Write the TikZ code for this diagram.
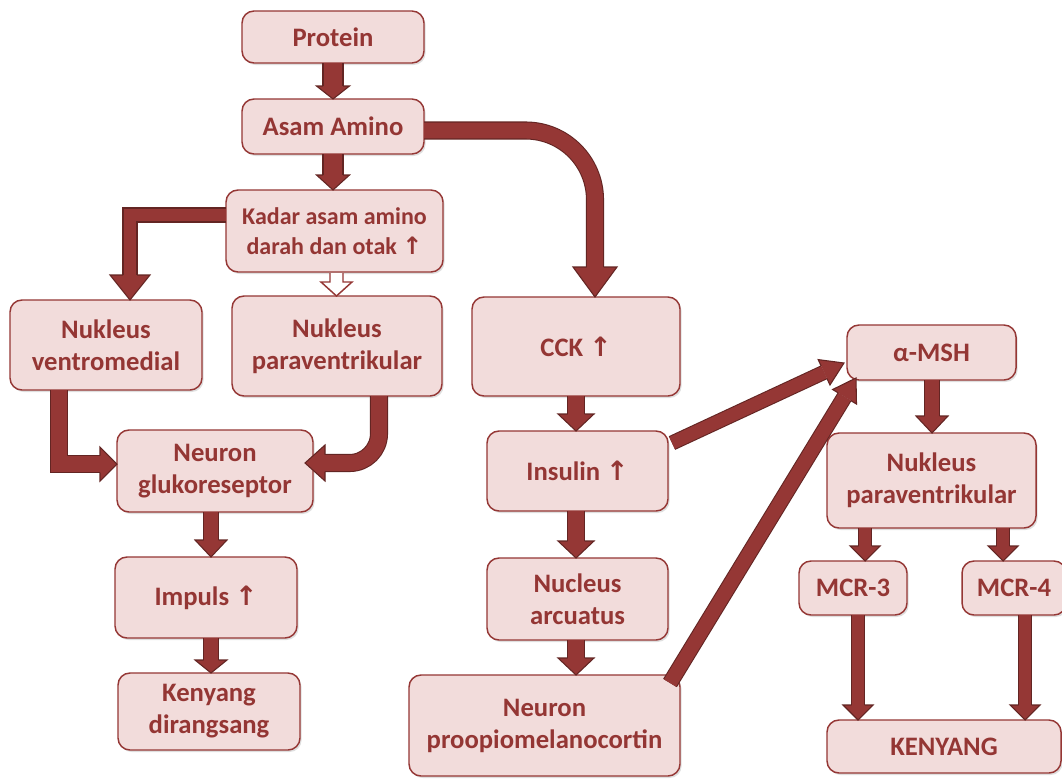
\documentclass[tikz,border=0pt]{standalone}
\usepackage{fontspec}
\setmainfont{Carlito}
\newfontfamily\arrfont[Scale=1.0]{DejaVu Sans}
\usetikzlibrary{calc,shadows}
\definecolor{boxfill}{HTML}{F2DCDB}
\definecolor{boxline}{HTML}{953735}
\definecolor{txtc}{HTML}{943634}
\definecolor{arrowc}{HTML}{953735}
\definecolor{darkc}{HTML}{632523}
\newcommand{\upa}{{\arrfont ↑}}
\tikzset{
  box/.style={fill=boxfill, draw=boxline, line width=1.1pt, rounded corners=9pt,
    text=txtc, font=\bfseries\fontsize{20}{24}\selectfont, align=center,
    inner sep=2pt, outer sep=0pt,
    drop shadow={shadow xshift=1.2pt, shadow yshift=-1.5pt, opacity=0.25}},
  smalltext/.style={font=\bfseries\fontsize{18}{22}\selectfont}
}
% box from pixel corners
\newcommand{\mkbox}[7][]{\node[box,#1,minimum width={(#5-#3)*0.75pt},minimum height={(#6-#4)*0.75pt}] (#2) at ({(#3+#5)/2},{(#4+#6)/2}) {#7};}
% thick shaft with dark edge
\newcommand{\ashaft}[2]{%
  \pgfmathsetlengthmacro\aow{#2+0.8pt}\pgfmathsetlengthmacro\aiw{#2-0.8pt}%
  \draw[darkc, line width=\aow, line join=miter] #1;
  \draw[arrowc, line width=\aiw, line join=miter] #1;}
% block head: base, tip, half width, shaft width
\newcommand{\ahead}[4]{%
  \pgfmathsetlengthmacro\ahs{#4/2}%
  \fill[arrowc] ($(#1)!#3!90:(#2)$) -- (#2) -- ($(#1)!#3!-90:(#2)$) -- cycle;
  \draw[darkc, line width=0.8pt, line join=miter] ($(#1)!\ahs!90:(#2)$) -- ($(#1)!#3!90:(#2)$) -- (#2) -- ($(#1)!#3!-90:(#2)$) -- ($(#1)!\ahs!-90:(#2)$);}
% straight block arrow: start, tip, head length, head half width, shaft width
\newcommand{\sarr}[5]{%
  \coordinate (aB) at ($(#2)!#3!(#1)$);
  \ashaft{(#1) -- (aB)}{#5}
  \ahead{aB}{#2}{#4}{#5}}
% vertical arrow between nodes: src, dst, x(px), head length, head half width, shaft width
\newcommand{\varr}[6]{%
  \coordinate (vx) at (#3,0);
  \coordinate (vS) at (vx |- #1.south);
  \coordinate (vT) at (vx |- #2.north);
  \sarr{vS}{vT}{#4}{#5}{#6}}
\begin{document}
\begin{tikzpicture}[x=0.75pt,y=-0.75pt]
\useasboundingbox (0,0) rectangle (1062,778);
\fill[white] (0,0) rectangle (1062,778);

% boxes
\mkbox{prot}{242}{11}{424}{63}{Protein}
\mkbox{asam}{242}{99}{424}{154}{Asam Amino}
\mkbox[smalltext]{kadar}{226}{190}{443}{272}{Kadar asam amino\\darah dan otak \upa}
\mkbox{vm}{10}{300}{202}{390}{Nukleus\\ventromedial}
\mkbox{pvl}{232}{296}{442}{396}{Nukleus\\paraventrikular}
\mkbox{glu}{117}{430}{313}{512}{Neuron\\glukoreseptor}
\mkbox{imp}{115}{557}{297}{638}{Impuls \upa}
\mkbox{ken}{118}{673}{300}{750}{Kenyang\\dirangsang}
\mkbox{cck}{472}{297}{680}{396}{CCK \upa}
\mkbox{ins}{487}{431}{668}{511}{Insulin \upa}
\mkbox{arc}{487}{558}{668}{640}{Nucleus\\arcuatus}
\mkbox{pomc}{409}{675}{680}{776}{Neuron\\proopiomelanocortin}
\mkbox{msh}{847}{325}{1016}{380}{α-MSH}
\mkbox{pvr}{827}{433}{1036}{528}{Nukleus\\paraventrikular}
\mkbox{mcr3}{799}{561}{907}{615}{MCR-3}
\mkbox{mcr4}{962}{561}{1066}{615}{MCR-4}
\mkbox{kny}{827}{720}{1061}{773}{KENYANG}

% straight vertical arrows
\varr{prot}{asam}{333}{9.75pt}{12.4pt}{15pt}
\varr{asam}{kadar}{333}{11.25pt}{12.4pt}{15pt}
\varr{glu}{imp}{211}{12.75pt}{12pt}{11.25pt}
\varr{imp}{ken}{211}{9.75pt}{12pt}{11.25pt}
\varr{cck}{ins}{576}{12.75pt}{13.5pt}{12.75pt}
\varr{ins}{arc}{576}{12.75pt}{13.5pt}{12.75pt}
\varr{arc}{pomc}{576}{12.75pt}{13.5pt}{12.75pt}
\varr{msh}{pvr}{932}{12.75pt}{12pt}{11.25pt}
\varr{pvr}{mcr3}{865}{11.25pt}{11.25pt}{9.75pt}
\varr{pvr}{mcr4}{1003}{11.25pt}{11.25pt}{9.75pt}
\varr{mcr3}{kny}{858}{11.25pt}{11.25pt}{9.75pt}
\varr{mcr4}{kny}{1025}{11.25pt}{11.25pt}{9.75pt}

% hollow arrow kadar -> pvl
\coordinate (hx) at (336.5,0);
\coordinate (hS) at ($(hx |- kadar.south)+(0,1)$);
\coordinate (hT) at (hx |- pvl.north);
\coordinate (hB) at ($(hT)+(0,-14)$);
\filldraw[fill=white, draw=arrowc, line width=1.1pt, line join=miter]
  ($(hS)+(-6.5,0)$) -- ($(hB)+(-6.5,0)$) -- ($(hB)+(-15.5,0)$) -- (hT)
  -- ($(hB)+(15.5,0)$) -- ($(hB)+(6.5,0)$) -- ($(hS)+(6.5,0)$);

% asam -> cck (curved)
\coordinate (c3s) at ($(asam.east)+(0,4)$);
\coordinate (c3t) at ($(cck.north)+(19,0)$);
\coordinate (c3b) at ($(c3t)+(0,-30)$);
\ashaft{(c3s) [rounded corners=52pt] -- (c3t |- c3s) -- (c3b)}{12.75pt}
\ahead{c3b}{c3t}{16.5pt}{12.75pt}

% kadar -> vm
\coordinate (c4s) at ($(kadar.west)+(0,-16)$);
\coordinate (c4t) at ($(vm.north)+(24,0)$);
\coordinate (c4b) at ($(c4t)+(0,-25)$);
\ashaft{(c4s) -- (c4t |- c4s) -- (c4b)}{10.5pt}
\ahead{c4b}{c4t}{15pt}{10.5pt}

% vm -> glu
\coordinate (c6s) at ($(vm.south)+(-47,0)$);
\coordinate (c6t) at ($(glu.west)+(0,-7)$);
\coordinate (c6b) at ($(c6t)+(-17,0)$);
\ashaft{(c6s) -- (c6s |- c6t) -- (c6b)}{12.75pt}
\ahead{c6b}{c6t}{12.75pt}{12.75pt}

% pvl -> glu
\coordinate (c7s) at ($(pvl.south)+(42,0)$);
\coordinate (c7t) at ($(glu.east)+(-8,-8)$);
\coordinate (c7b) at ($(c7t)+(20,0)$);
\ashaft{(c7s) [rounded corners=22pt] -- (c7s |- c7t) -- (c7b)}{12.75pt}
\ahead{c7b}{c7t}{13.5pt}{12.75pt}

% ins -> msh
\coordinate (d1s) at ($(ins.east)+(4,-28)$);
\coordinate (d1t) at ($(msh.west)+(-3,10.5)$);
\sarr{d1s}{d1t}{16.5pt}{10.5pt}{10.5pt}

% pomc -> msh
\coordinate (d2s) at ($(pomc.north east)+(-10,8)$);
\coordinate (d2t) at ($(msh.south west)+(9,-2)$);
\sarr{d2s}{d2t}{16.5pt}{10.5pt}{11.25pt}
\end{tikzpicture}
\end{document}
